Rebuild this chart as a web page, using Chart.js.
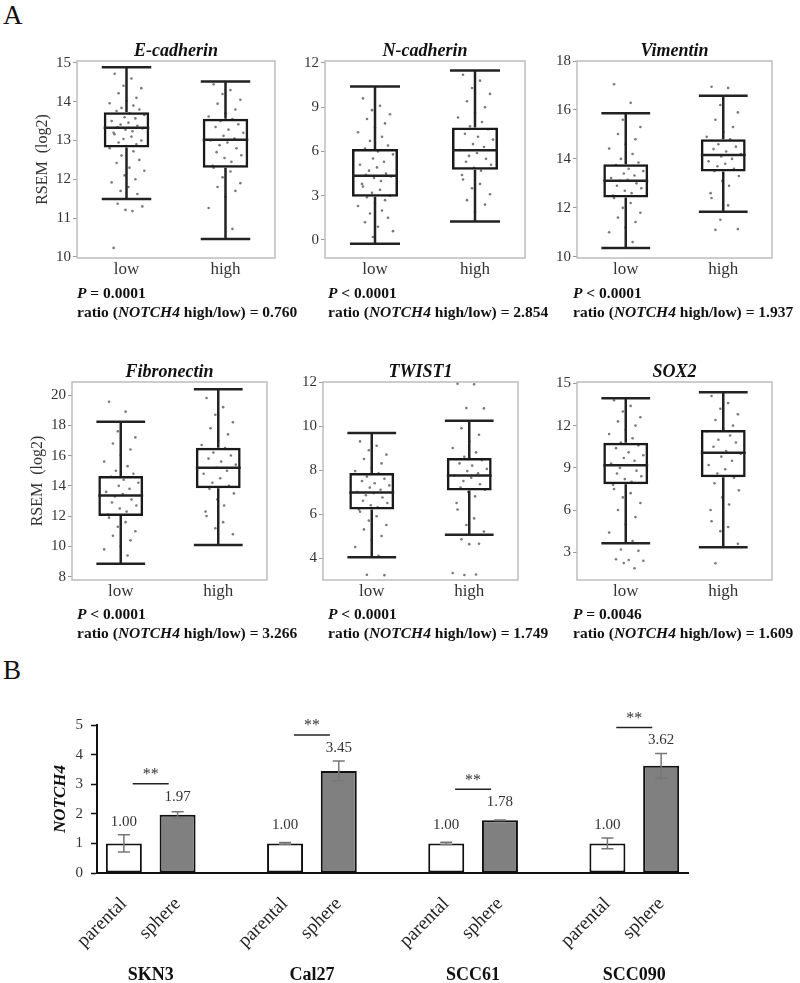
<!DOCTYPE html>
<html>
<head>
<meta charset="utf-8">
<script src="https://cdn.jsdelivr.net/npm/chart.js@4.4.0/dist/chart.umd.min.js"></script>
<style>
body { margin: 0; background: #fff; font-family: "Liberation Serif", "DejaVu Serif", serif; }
#fig { position: relative; width: 800px; height: 983px; overflow: hidden; background: #fff; }
canvas { position: absolute; }
.lbl { position: absolute; font-size: 27px; color: #111; line-height: 1; }
.stat { position: absolute; font-size: 15.5px; font-weight: bold; color: #111; line-height: 19px; white-space: nowrap; }
</style>
</head>
<body>
<div id="fig">
  <div class="lbl" style="left:3px;top:2px">A</div>
  <div class="lbl" style="left:3px;top:657px">B</div>
</div>
<script>
// ---- panel A data ----
var genes = ['E-cadherin', 'N-cadherin', 'Vimentin', 'Fibronectin', 'TWIST1', 'SOX2'];
var groups = ['low', 'high'];
var pSigns = ['=', '<', '<', '<', '<', '='];
var pNums = ['0.0001', '0.0001', '0.0001', '0.0001', '0.0001', '0.0046'];
var ratios = ['0.760', '2.854', '1.937', '3.266', '1.749', '1.609'];

var yMin = [9.97, -1.22, 9.95, 7.78, 3.0, 1.03];
var yMax = [15.05, 12.13, 18.0, 20.86, 12.0, 15.1];
var yTicks = [
  [10, 11, 12, 13, 14, 15],
  [0, 3, 6, 9, 12],
  [10, 12, 14, 16, 18],
  [8, 10, 12, 14, 16, 18, 20],
  [4, 6, 8, 10, 12],
  [3, 6, 9, 12, 15]
];

// [lower whisker, Q1, median, Q3, upper whisker]
var lowStats = [
  [11.49, 12.82, 13.33, 13.73, 14.89],
  [-0.25, 2.93, 4.35, 6.16, 10.41],
  [10.36, 12.42, 13.11, 13.78, 15.87],
  [8.85, 12.01, 13.37, 14.65, 18.24],
  [4.03, 6.20, 6.98, 7.86, 9.68],
  [3.64, 7.83, 9.18, 10.79, 13.95]
];
var highStats = [
  [10.46, 12.30, 13.02, 13.56, 14.52],
  [1.26, 4.76, 6.09, 7.63, 11.49],
  [11.84, 13.48, 14.16, 14.80, 16.58],
  [10.1, 13.84, 15.20, 16.52, 20.38],
  [5.06, 7.07, 7.75, 8.55, 10.24],
  [3.36, 8.33, 10.08, 11.69, 14.37]
];

var lowPoints = [
  [14.72, 14.6, 14.41, 14.35, 14.22, 14.1, 14.02, 13.96, 13.9, 13.84, 13.8, 13.76, 13.7, 13.66, 13.6, 13.57, 13.5, 13.46, 13.41, 13.38, 13.35, 13.31, 13.28, 13.24, 13.2, 13.16, 13.1, 13.04, 13.0, 12.95, 12.9, 12.86, 12.8, 12.72, 12.61, 12.5, 12.42, 12.3, 12.22, 12.1, 12.0, 11.92, 11.8, 11.7, 11.62, 11.37, 11.3, 11.21, 11.18, 10.23],
  [9.6, 9.1, 8.8, 8.52, 8.2, 7.9, 7.62, 7.3, 7.0, 6.72, 6.4, 6.2, 6.0, 5.8, 5.52, 5.3, 5.1, 4.92, 4.7, 4.5, 4.42, 4.3, 4.2, 4.0, 3.8, 3.62, 3.4, 3.2, 3.0, 2.9, 2.7, 2.5, 2.3, 2.0, 1.8, 1.5, 1.2, 0.9, 0.6, 0.2],
  [17.05, 16.29, 15.6, 15.3, 15.02, 14.8, 14.6, 14.42, 14.2, 14.0, 13.85, 13.75, 13.6, 13.5, 13.4, 13.32, 13.22, 13.15, 13.1, 13.0, 12.9, 12.8, 12.7, 12.6, 12.5, 12.4, 12.2, 12.0, 11.8, 11.6, 11.42, 11.2, 11.0, 10.6],
  [19.56, 18.9, 17.6, 17.2, 16.8, 16.4, 16.0, 15.6, 15.3, 15.0, 14.8, 14.6, 14.4, 14.2, 14.0, 13.8, 13.6, 13.45, 13.3, 13.1, 12.9, 12.7, 12.5, 12.3, 12.1, 11.9, 11.6, 11.3, 11.0, 10.7, 10.4, 10.0, 9.8, 9.4],
  [9.3, 9.1, 8.9, 8.7, 8.5, 8.3, 8.1, 7.95, 7.85, 7.7, 7.6, 7.5, 7.4, 7.3, 7.2, 7.1, 7.0, 6.95, 6.85, 6.75, 6.6, 6.5, 6.4, 6.3, 6.2, 6.1, 5.9, 5.7, 5.5, 5.3, 5.0, 4.8, 4.5, 4.1, 3.24, 3.22],
  [13.8, 13.4, 13.0, 12.6, 12.3, 12.0, 11.7, 11.4, 11.1, 10.8, 10.6, 10.4, 10.1, 9.9, 9.7, 9.5, 9.3, 9.2, 9.0, 8.8, 8.6, 8.4, 8.2, 8.0, 7.8, 7.5, 7.2, 6.9, 6.5, 6.0, 5.5, 5.0, 4.4, 3.8, 3.2, 3.1, 2.5, 2.45, 2.4, 2.24, 1.86]
];
var highPoints = [
  [14.45, 14.3, 14.2, 14.05, 13.95, 13.8, 13.7, 13.62, 13.55, 13.5, 13.42, 13.35, 13.28, 13.2, 13.12, 13.05, 13.0, 12.95, 12.88, 12.8, 12.7, 12.62, 12.55, 12.45, 12.35, 12.3, 12.2, 12.05, 11.9, 11.8, 11.7, 11.55, 11.26, 10.72],
  [11.2, 10.8, 10.3, 9.9, 9.4, 9.0, 8.6, 8.3, 8.0, 7.7, 7.5, 7.2, 7.0, 6.8, 6.5, 6.3, 6.1, 5.9, 5.7, 5.5, 5.3, 5.1, 4.9, 4.7, 4.4, 4.1, 3.8, 3.5, 3.1, 2.7, 2.4, 1.9],
  [16.95, 16.9, 16.2, 15.9, 15.6, 15.3, 15.1, 14.9, 14.8, 14.6, 14.5, 14.4, 14.3, 14.2, 14.1, 14.0, 13.9, 13.8, 13.7, 13.6, 13.5, 13.3, 13.1, 12.9, 12.6, 12.4, 12.1, 11.51, 11.13, 11.1],
  [19.8, 19.2, 18.7, 18.2, 17.8, 17.4, 17.0, 16.7, 16.5, 16.2, 16.0, 15.8, 15.6, 15.4, 15.2, 15.0, 14.8, 14.5, 14.2, 14.0, 13.8, 13.5, 13.1, 12.7, 12.3, 12.0, 11.6, 11.2, 10.8],
  [11.92, 11.9, 10.82, 10.8, 9.9, 9.6, 9.3, 9.0, 8.8, 8.6, 8.45, 8.3, 8.2, 8.05, 7.95, 7.85, 7.75, 7.65, 7.5, 7.35, 7.2, 7.1, 7.0, 6.8, 6.5, 6.2, 5.8, 5.5, 5.2, 4.85, 4.65, 4.63, 3.32, 3.25, 3.23],
  [14.1, 13.6, 13.2, 12.8, 12.4, 12.0, 11.8, 11.6, 11.3, 11.0, 10.8, 10.5, 10.2, 10.0, 9.8, 9.5, 9.2, 8.9, 8.6, 8.3, 7.9, 7.4, 6.9, 6.4, 6.0, 5.2, 4.8, 4.5, 3.6, 2.22]
];

// ---- panel B data ----
var cellLines = ['SKN3', 'Cal27', 'SCC61', 'SCC090'];
var conditions = ['parental', 'sphere'];
var parentalMean = [1.00, 1.00, 1.00, 1.00];
var sphereMean = [1.97, 3.45, 1.78, 3.62];
var parentalErr = [0.29, 0.03, 0.04, 0.18];
var sphereErr = [0.10, 0.33, 0.01, 0.42];
var significance = ['**', '**', '**', '**'];
var barTicks = [0, 1, 2, 3, 4, 5];

// ---- layout ----
var SERIF = '"Liberation Serif", "DejaVu Serif", serif';
var fig = document.getElementById('fig');
var frames = [
  { left: 77, top: 61, w: 198, h: 197 },
  { left: 325, top: 61, w: 200, h: 197 },
  { left: 577, top: 61, w: 195, h: 197 },
  { left: 72, top: 382, w: 195, h: 198 },
  { left: 323, top: 382, w: 195, h: 198 },
  { left: 577, top: 382, w: 195, h: 198 }
];
var statPos = [[77, 283], [328, 283], [573, 283], [77, 604], [328, 604], [573, 604]];
var jitter = [-0.12, 0.05, -0.03, 0.15, -0.08, 0.1, 0.0, -0.17, 0.07, -0.05, 0.13, -0.1, 0.03, 0.18, -0.02, 0.09, -0.15, 0.02, -0.06, 0.11, -0.09, 0.16, -0.01, 0.06, -0.13];

function addCanvas(left, top, w, h) {
  var cv = document.createElement('canvas');
  cv.width = w; cv.height = h;
  cv.style.left = left + 'px'; cv.style.top = top + 'px';
  cv.style.width = w + 'px'; cv.style.height = h + 'px';
  fig.appendChild(cv);
  return cv;
}

var framePlugin = {
  id: 'frame',
  beforeDatasetsDraw: function(chart) {
    var a = chart.chartArea, ctx = chart.ctx;
    ctx.save();
    ctx.strokeStyle = '#bdbdbd';
    ctx.lineWidth = 1.5;
    ctx.strokeRect(a.left, a.top, a.right - a.left, a.bottom - a.top);
    ctx.restore();
  }
};

var panelTitle = {
  id: 'panelTitle',
  afterDraw: function(chart, args, opts) {
    var a = chart.chartArea, ctx = chart.ctx;
    ctx.save();
    ctx.font = 'italic bold 18px ' + SERIF;
    ctx.fillStyle = '#111';
    ctx.textAlign = 'center';
    ctx.textBaseline = 'middle';
    ctx.fillText(opts.text, (a.left + a.right) / 2, a.top - 10);
    ctx.restore();
  }
};

var whiskers = {
  id: 'whiskers',
  afterDatasetsDraw: function(chart, args, opts) {
    var ctx = chart.ctx, xs = chart.scales.x, ys = chart.scales.y;
    var boxes = chart.getDatasetMeta(0).data;
    ctx.save();
    ctx.strokeStyle = '#222';
    ctx.lineWidth = 2.5;
    opts.stats.forEach(function(s, g) {
      var cx = xs.getPixelForValue(g);
      var capHalf = xs.getPixelForValue(g + 0.25) - cx;
      var boxHalf = boxes[g].width / 2;
      var y = s.map(function(v) { return ys.getPixelForValue(v); });
      ctx.beginPath();
      ctx.moveTo(cx, y[0]); ctx.lineTo(cx, y[1]);
      ctx.moveTo(cx, y[3]); ctx.lineTo(cx, y[4]);
      ctx.moveTo(cx - capHalf, y[0]); ctx.lineTo(cx + capHalf, y[0]);
      ctx.moveTo(cx - capHalf, y[4]); ctx.lineTo(cx + capHalf, y[4]);
      ctx.moveTo(cx - boxHalf, y[2]); ctx.lineTo(cx + boxHalf, y[2]);
      ctx.stroke();
    });
    ctx.restore();
  }
};

function makePanel(k) {
  var f = frames[k];
  var padL = 60, padR = 60, padT = 30, padB = 30;
  var cv = addCanvas(f.left - padL, f.top - padT, f.w + padL + padR, f.h + padT + padB);
  var pts = [];
  [lowPoints[k], highPoints[k]].forEach(function(arr, g) {
    arr.forEach(function(v, i) { pts.push({ x: g + jitter[i % jitter.length], y: v }); });
  });
  var stats = [lowStats[k], highStats[k]];
  new Chart(cv, {
    type: 'bar',
    data: {
      datasets: [
        {
          type: 'bar',
          data: stats.map(function(s, g) { return { x: g, y: [s[1], s[3]] }; }),
          backgroundColor: 'rgba(0,0,0,0)',
          borderColor: '#1a1a1a',
          borderWidth: 2.5,
          borderSkipped: false,
          barPercentage: 0.46,
          categoryPercentage: 1
        },
        {
          type: 'scatter',
          data: pts,
          pointRadius: 1.3,
          pointBackgroundColor: '#7a7a7a',
          pointBorderWidth: 0
        }
      ]
    },
    options: {
      responsive: false,
      animation: false,
      layout: { padding: { left: 0, right: padR, top: padT, bottom: 0 } },
      plugins: {
        legend: { display: false },
        tooltip: { enabled: false },
        panelTitle: { text: genes[k] },
        whiskers: { stats: stats }
      },
      scales: {
        x: {
          type: 'linear',
          offset: false,
          min: -0.5, max: 1.5,
          afterBuildTicks: function(axis) { axis.ticks = [{ value: 0 }, { value: 1 }]; },
          afterFit: function(s) { s.height = padB; },
          grid: { display: false, drawTicks: false, tickLength: 0 },
          border: { display: false },
          ticks: {
            padding: 1,
            color: '#333',
            font: { family: SERIF, size: 17 },
            callback: function(v) { return groups[v]; }
          }
        },
        y: {
          min: yMin[k], max: yMax[k],
          afterBuildTicks: function(axis) { axis.ticks = yTicks[k].map(function(v) { return { value: v }; }); },
          afterFit: function(s) { s.width = padL; },
          grid: { drawOnChartArea: false, drawTicks: true, tickLength: 4, tickColor: '#999' },
          border: { display: false },
          title: {
            display: k % 3 === 0,
            text: 'RSEM  (log2)',
            color: '#333',
            font: { family: SERIF, size: 16 },
            padding: { top: 16, bottom: 0 }
          },
          ticks: { padding: 2, color: '#333', font: { family: SERIF, size: 15 } }
        }
      }
    },
    plugins: [framePlugin, panelTitle, whiskers]
  });

  var d = document.createElement('div');
  d.className = 'stat';
  d.style.left = statPos[k][0] + 'px';
  d.style.top = statPos[k][1] + 'px';
  d.innerHTML = '<i>P</i> ' + pSigns[k] + ' ' + pNums[k] + '<br>ratio (<i>NOTCH4</i> high/low) = ' + ratios[k];
  fig.appendChild(d);
}

for (var k = 0; k < genes.length; k++) makePanel(k);

// ---- panel B ----
var slotLabels = [], slotValues = [], slotErrors = [], slotColors = [], pairs = [];
cellLines.forEach(function(c, i) {
  if (i > 0) { slotLabels.push(''); slotValues.push(null); slotErrors.push(null); slotColors.push('#fff'); }
  pairs.push(slotLabels.length);
  slotLabels.push(conditions[0]); slotValues.push(parentalMean[i]); slotErrors.push(parentalErr[i]); slotColors.push('#ffffff');
  slotLabels.push(conditions[1]); slotValues.push(sphereMean[i]); slotErrors.push(sphereErr[i]); slotColors.push('#808080');
});

var barExtras = {
  id: 'barExtras',
  afterDatasetsDraw: function(chart) {
    var ctx = chart.ctx, xs = chart.scales.x, ys = chart.scales.y;
    var labelY = [];
    ctx.save();
    ctx.strokeStyle = '#777';
    ctx.lineWidth = 1.5;
    slotValues.forEach(function(v, i) {
      if (v === null) return;
      var x = xs.getPixelForValue(i);
      var top = ys.getPixelForValue(v + slotErrors[i]);
      var bot = ys.getPixelForValue(v - slotErrors[i]);
      ctx.beginPath();
      ctx.moveTo(x, top); ctx.lineTo(x, bot);
      ctx.moveTo(x - 6, top); ctx.lineTo(x + 6, top);
      ctx.moveTo(x - 6, bot); ctx.lineTo(x + 6, bot);
      ctx.stroke();
      labelY[i] = Math.min(ys.getPixelForValue(v) - 18, top - 13);
    });
    ctx.fillStyle = '#333';
    ctx.font = '15px ' + SERIF;
    ctx.textAlign = 'center';
    ctx.textBaseline = 'middle';
    slotValues.forEach(function(v, i) {
      if (v === null) return;
      ctx.fillText(v.toFixed(2), xs.getPixelForValue(i), labelY[i]);
    });
    ctx.strokeStyle = '#222';
    ctx.lineWidth = 1.5;
    pairs.forEach(function(p, g) {
      var cx = (xs.getPixelForValue(p) + xs.getPixelForValue(p + 1)) / 2;
      var ly = labelY[p + 1] - 13;
      ctx.beginPath();
      ctx.moveTo(cx - 18, ly); ctx.lineTo(cx + 18, ly);
      ctx.stroke();
      ctx.fillStyle = '#333';
      ctx.font = '16px ' + SERIF;
      ctx.fillText(significance[g], cx, ly - 9);
    });
    ctx.restore();
  },
  afterDraw: function(chart) {
    var ctx = chart.ctx, xs = chart.scales.x;
    ctx.save();
    ctx.fillStyle = '#111';
    ctx.font = 'bold 18px ' + SERIF;
    ctx.textAlign = 'center';
    ctx.textBaseline = 'middle';
    pairs.forEach(function(p, g) {
      var cx = (xs.getPixelForValue(p) + xs.getPixelForValue(p + 1)) / 2;
      ctx.fillText(cellLines[g], cx, 285);
    });
    ctx.restore();
  }
};

var bcv = addCanvas(0, 690, 800, 293);
new Chart(bcv, {
  type: 'bar',
  data: {
    labels: slotLabels,
    datasets: [{
      data: slotValues,
      backgroundColor: slotColors,
      borderColor: '#111',
      borderWidth: 2,
      borderSkipped: false,
      barPercentage: 0.67,
      categoryPercentage: 1
    }]
  },
  options: {
    responsive: false,
    animation: false,
    layout: { padding: { left: 0, right: 112, top: 35, bottom: 0 } },
    plugins: { legend: { display: false }, tooltip: { enabled: false } },
    scales: {
      x: {
        afterFit: function(s) { s.height = 110; },
        grid: { display: true, drawOnChartArea: false, drawTicks: false },
        border: { display: true, color: '#111', width: 2 },
        ticks: {
          autoSkip: false, minRotation: 45, maxRotation: 45, padding: 20,
          color: '#222', font: { family: SERIF, size: 19 }
        }
      },
      y: {
        min: 0, max: 5,
        afterBuildTicks: function(axis) { axis.ticks = barTicks.map(function(v) { return { value: v }; }); },
        afterFit: function(s) { s.width = 97; },
        grid: { drawOnChartArea: false, drawTicks: true, tickLength: 6, tickColor: '#111', tickWidth: 1.5 },
        border: { display: true, color: '#111', width: 2 },
        title: {
          display: true, text: 'NOTCH4', color: '#111',
          font: { family: SERIF, size: 17, style: 'italic', weight: 'bold' },
          padding: { top: 50, bottom: 0 }
        },
        ticks: { padding: 8, color: '#333', font: { family: SERIF, size: 15 } }
      }
    }
  },
  plugins: [barExtras]
});
</script>
</body>
</html>
